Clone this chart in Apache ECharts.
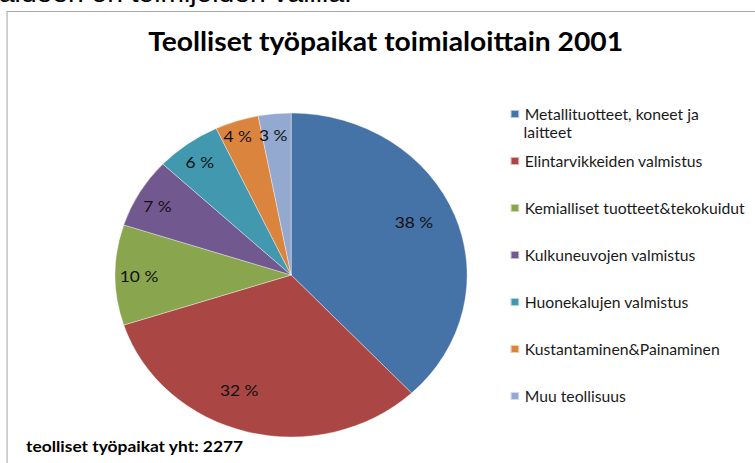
<!DOCTYPE html>
<html>
<head>
<meta charset="utf-8">
<script src="https://cdn.jsdelivr.net/npm/echarts@6/dist/echarts.min.js"></script>
<style>
  html, body { margin: 0; padding: 0; background: #fff; overflow: hidden; }
  #wrap { width: 755px; height: 463px; overflow: hidden; position: relative; }
  #chart { width: 695px; height: 463px; transform: scaleX(1.0863); transform-origin: 0 0; }
</style>
</head>
<body>
<div id="wrap"><div id="chart"></div></div>
<script>
// ---- data ----
var categories = [
  'Metallituotteet, koneet ja laitteet',
  'Elintarvikkeiden valmistus',
  'Kemialliset tuotteet&tekokuidut',
  'Kulkuneuvojen valmistus',
  'Huonekalujen valmistus',
  'Kustantaminen&Painaminen',
  'Muu teollisuus'
];
var shares = [38, 32, 10, 7, 6, 4, 3];   // percent of industrial jobs
var totalJobs = 2277;
var titleText = 'Teolliset työpaikat toimialoittain 2001';
var footerText = 'teolliset työpaikat yht: ' + totalJobs;
var headerText = 'aideen on toimijoiden välillä.';

// ---- style ----
var colors = ['#4572A7', '#AA4643', '#89A54E', '#71588F', '#4198AF', '#DB843D', '#93A9CF'];
var labelNudge = [[-6, -6], [-16, -9], [3, 1], [0, 4], [0, 3], [-5, -3], [-3, 3]];
var FONT = 'Lato, "Open Sans", sans-serif';

var pieData = categories.map(function (c, i) { return { name: c, value: shares[i] }; });
// label-only overlays: large slices get labels nearer the centre than small ones
function labelData(big) {
  return categories.map(function (c, i) {
    var isBig = shares[i] >= 20;
    return { name: c, value: shares[i], label: { show: isBig === big, offset: labelNudge[i] } };
  });
}
var labelStyle = { show: true, position: 'inside', formatter: '{c} %', fontFamily: FONT, fontSize: 16, color: '#111' };

var chart = echarts.init(document.getElementById('chart'), null, { renderer: 'svg' });
chart.setOption({
  animation: false,
  color: colors,
  graphic: [
    { type: 'rect', shape: { x: 6.5, y: 11.5, width: 900, height: 600 },
      style: { fill: 'none', stroke: '#a9a9a9', lineWidth: 1 }, z: 0 },
    { type: 'text', x: -1, y: 6, style: { text: headerText, font: '26px "Liberation Sans", Arial, sans-serif', fill: '#000', verticalAlign: 'bottom' } },
    { type: 'text', x: 355, y: 41, style: { text: titleText, font: 'bold 26px ' + FONT, fill: '#000', align: 'center', verticalAlign: 'middle' } },
    { type: 'text', x: 482, y: 132, style: { text: 'laitteet', font: '14.5px ' + FONT, fill: '#1a1a1a', verticalAlign: 'middle' } },
    { type: 'text', x: 24, y: 446, style: { text: footerText, font: 'bold 16px ' + FONT, fill: '#000', verticalAlign: 'middle' } }
  ],
  legend: [
    { orient: 'vertical', left: 469, top: 106, padding: 0, icon: 'rect', itemWidth: 8, itemHeight: 8,
      data: [categories[0]], formatter: function () { return 'Metallituotteet, koneet ja'; },
      textStyle: { fontFamily: FONT, fontSize: 14.5, color: '#1a1a1a', lineHeight: 16 }, selectedMode: false },
    { orient: 'vertical', left: 469, top: 153, padding: 0, icon: 'rect', itemWidth: 8, itemHeight: 8, itemGap: 31,
      data: categories.slice(1),
      textStyle: { fontFamily: FONT, fontSize: 14.5, color: '#1a1a1a', lineHeight: 16 }, selectedMode: false }
  ],
  series: [
    { type: 'pie', center: [268, 275], radius: [0, 162], startAngle: 90, clockwise: true,
      data: pieData, label: { show: false }, labelLine: { show: false },
      itemStyle: { borderColor: 'rgba(255,255,255,0.6)', borderWidth: 0.6 }, silent: true },
    { type: 'pie', center: [268, 275], radius: [88, 162], startAngle: 90, clockwise: true,
      data: labelData(true), silent: true, z: 3,
      itemStyle: { color: 'rgba(0,0,0,0)', borderWidth: 0 },
      label: labelStyle, labelLine: { show: false } },
    { type: 'pie', center: [268, 275], radius: [116, 164], startAngle: 90, clockwise: true,
      data: labelData(false), silent: true, z: 3,
      itemStyle: { color: 'rgba(0,0,0,0)', borderWidth: 0 },
      label: labelStyle, labelLine: { show: false } }
  ]
});
</script>
</body>
</html>
